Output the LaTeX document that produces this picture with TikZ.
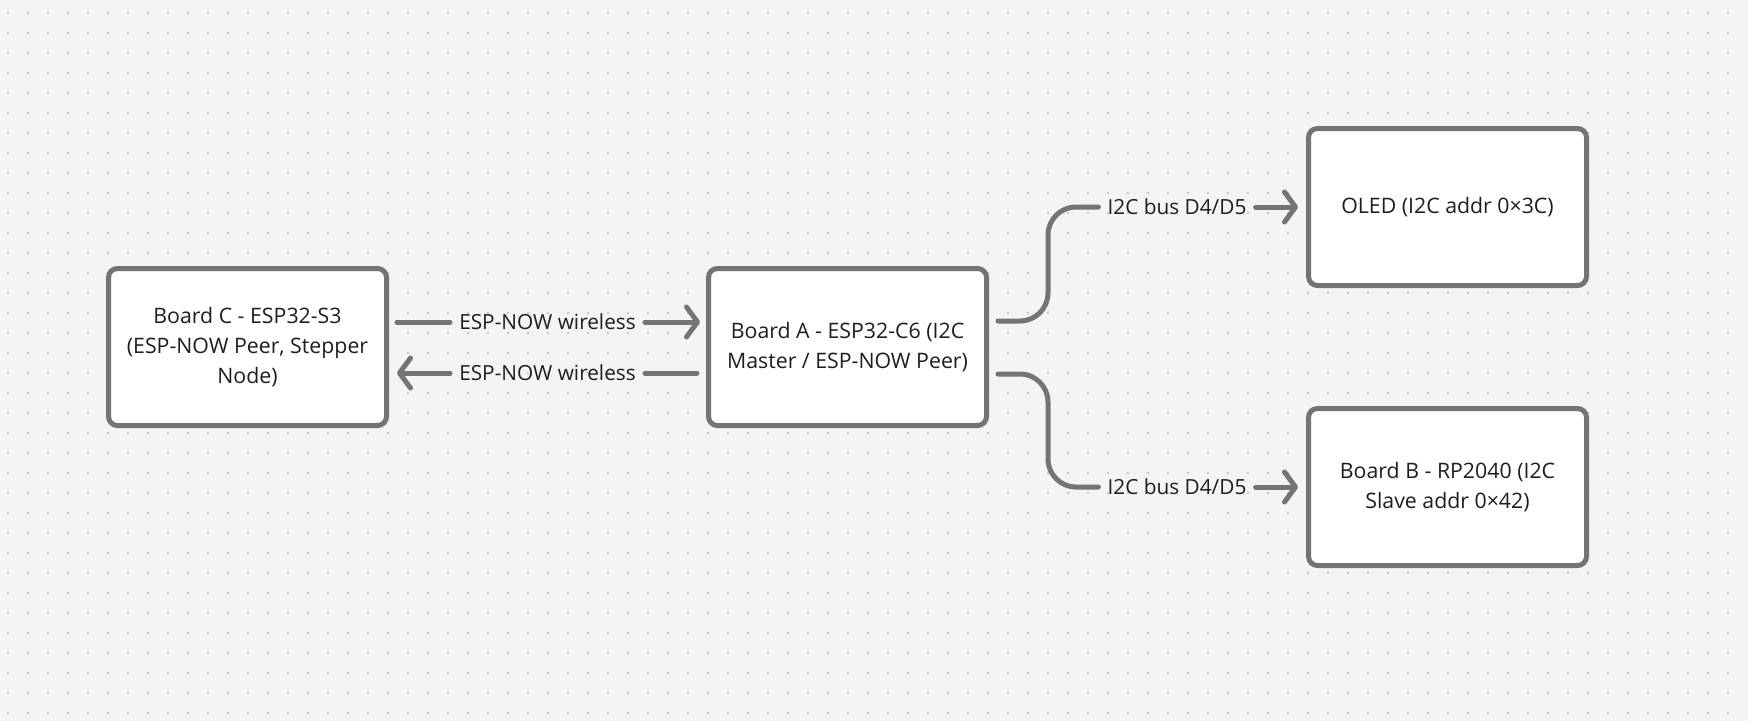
\documentclass[tikz,border=0pt]{standalone}
\usepackage{fontspec}
\setmainfont{Open Sans}
\usepackage{tikz}
\usetikzlibrary{arrows.meta, positioning}
\definecolor{canvas}{HTML}{F4F4F4}
\definecolor{griddot}{HTML}{C6C6C6}
\definecolor{wire}{HTML}{747474}
\definecolor{ink}{HTML}{1E1E1E}
\tikzstyle{board} = [draw=wire, fill=white, rectangle, rounded corners=9pt,
    line width=5pt, minimum width=278pt, minimum height=157pt,
    align=center, text=ink, font=\fontsize{21.3}{30}\selectfont]
\tikzstyle{wireline} = [draw=wire, line width=5pt, line cap=round, line join=round]
\tikzstyle{link} = [wireline,
    -{Straight Barb[length=11pt, width=30pt, line cap=round, line join=round]}]
\tikzstyle{tag} = [text=ink, inner xsep=9pt, inner ysep=2pt,
    font=\fontsize{20.8}{24}\selectfont]

\begin{document}
\begin{tikzpicture}[x=1pt, y=-1pt]
    % canvas with dot grid
    \fill[canvas] (0,0) rectangle (1748,721);
    \useasboundingbox (0,0) rectangle (1748,721);
    \foreach \i in {0,...,86}
        \foreach \j in {0,...,35}
            \fill[griddot] (8+20*\i, 13+20*\j) circle (1.4pt);

    % boards
    \node [board] (boardC) at (247.5,347) {Board C - ESP32-S3\\(ESP-NOW Peer, Stepper\\Node)};
    \node [board, right=317pt of boardC] (boardA) {Board A - ESP32-C6 (I2C\\Master / ESP-NOW Peer)};
    \node [board, right=317pt of boardA, yshift=140pt] (oled) {OLED (I2C addr 0×3C)};
    \node [board, right=317pt of boardA, yshift=-140pt] (boardB) {Board B - RP2040 (I2C\\Slave addr 0×42)};

    % labels sit in gaps of the links
    \path ([yshift=25pt]boardC.east) -- node [tag] (espOut) {ESP-NOW wireless} ([yshift=25pt]boardA.west);
    \path ([yshift=-26pt]boardA.west) -- node [tag] (espBack) {ESP-NOW wireless} ([yshift=-26pt]boardC.east);
    \path ([yshift=26pt]boardA.east) -- ++(59,0) |- node [tag, pos=0.75] (busOled) {I2C bus D4/D5} (oled.west);
    \path ([yshift=-27pt]boardA.east) -- ++(59,0) |- node [tag, pos=0.75] (busB) {I2C bus D4/D5} (boardB.west);

    % ESP-NOW links
    \draw [wireline, shorten <=8pt] ([yshift=25pt]boardC.east) -- (espOut.west);
    \draw [link, shorten >=6pt] (espOut.east) -- ([yshift=25pt]boardA.west);
    \draw [wireline, shorten <=9pt] ([yshift=-26pt]boardA.west) -- (espBack.east);
    \draw [link, shorten >=8pt] (espBack.west) -- ([yshift=-26pt]boardC.east);

    % I2C bus
    \draw [wireline, rounded corners=28pt, shorten <=9pt] ([yshift=26pt]boardA.east) -- ++(59,0) |- (busOled.west);
    \draw [link, shorten >=8pt] (busOled.east) -- (oled.west);
    \draw [wireline, rounded corners=28pt, shorten <=9pt] ([yshift=-27pt]boardA.east) -- ++(59,0) |- (busB.west);
    \draw [link, shorten >=8pt] (busB.east) -- (boardB.west);
\end{tikzpicture}
\end{document}
